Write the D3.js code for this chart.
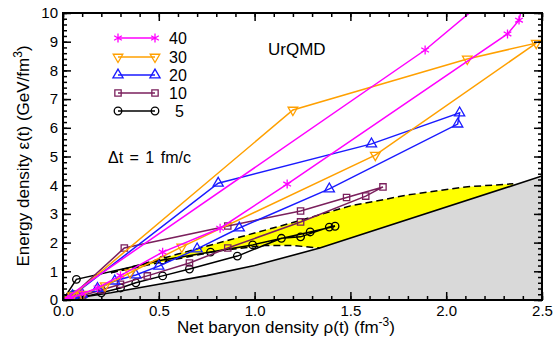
<!DOCTYPE html>
<html>
<head>
<meta charset="utf-8">
<script src="https://cdn.jsdelivr.net/npm/d3@7"></script>
<style>
  body { margin: 0; background: #fff; }
  svg { display: block; font-family: "Liberation Sans", Arial, sans-serif; }
</style>
</head>
<body>
<svg id="chart" width="554" height="346"></svg>
<script>
// trajectories [rho, eps], one point per marker
var s40 = [[0,0],[0.04,0.08],[0.1,0.22],[0.18,0.42],[0.3,0.85],[0.52,1.67],[0.82,2.5],[1.17,4.04],[2.32,9.27],[2.38,9.75],[2.44,11.5],[2.3,11.0],[1.89,8.71],[0,0]];
var s30 = [[0,0],[0.05,0.15],[1.2,6.62],[2.11,8.4],[2.47,8.95],[1.63,5.05],[0.62,1.85],[0.35,0.95],[0.22,0.5],[0.1,0.2],[0,0]];
var s20 = [[0,0],[0.05,0.15],[0.81,4.07],[1.61,5.44],[2.07,6.52],[2.06,6.13],[1.39,3.87],[0.92,2.51],[0.7,1.78],[0.5,1.18],[0.38,0.87],[0.27,0.66],[0.18,0.4],[0.1,0.2],[0,0]];
var s10 = [[0,0],[0.04,0.1],[0.32,1.81],[0.86,2.58],[1.24,3.1],[1.48,3.57],[1.67,3.94],[1.58,3.62],[1.24,2.72],[0.86,1.81],[0.66,1.29],[0.44,0.84],[0.3,0.55],[0.2,0.35],[0.1,0.15],[0,0]];
var s5 = [[0,0],[0.07,0.72],[0.52,1.39],[0.77,1.67],[0.99,1.92],[1.29,2.37],[1.42,2.57],[1.39,2.54],[1.24,2.2],[1.14,2.15],[0.91,1.53],[0.66,1.08],[0.52,0.84],[0.38,0.6],[0.3,0.42],[0.2,0.25],[0.1,0.1],[0,0]];
var sLow = [[0,0],[0.02,0.2],[0.05,0.32],[0.09,0.3],[0.11,0.2],[0.06,0.08],[0,0]];

// phase boundary (solid) and yellow band edges (dashed)
var boundary = [[0,0],[0.25,0.25],[0.5,0.55],[0.75,0.85],[1.0,1.2],[1.34,1.81],[2.5,4.32]];
var bandUpper = [[0.25,0.95],[0.6,1.6],[0.9,2.15],[1.2,2.7],[1.5,3.28],[1.8,3.66],[2.1,3.94],[2.35,4.05]];
var bandLower = [[0.25,0.95],[0.5,1.3],[0.8,1.7],[1.05,1.9],[1.2,1.9],[1.34,1.81]];

var legendLabels = ["40", "30", "20", "10", "5"];
var xTicks = [0, 0.5, 1.0, 1.5, 2.0, 2.5];
var yTicks = [0,1,2,3,4,5,6,7,8,9,10];

var svg = d3.select("#chart");
var x = d3.scaleLinear().domain([0, 2.5]).range([63, 542]);
var y = d3.scaleLinear().domain([0, 10]).range([300, 13]);

svg.append("clipPath").attr("id", "clip")
    .append("rect").attr("x", 63).attr("y", 13).attr("width", 479).attr("height", 287);

var plot = svg.append("g").attr("clip-path", "url(#clip)");
var line = d3.line().x(function (d) { return x(d[0]); }).y(function (d) { return y(d[1]); });

// gray region under the boundary
plot.append("path")
    .datum(boundary)
    .attr("d", d3.area().x(function (d) { return x(d[0]); }).y0(y(0)).y1(function (d) { return y(d[1]); }))
    .attr("fill", "#d9d9d9");

// yellow band: upper dashed, back along the boundary, lower dashed reversed
var bandPoly = bandUpper.concat([[2.35, 3.996], [1.34, 1.81]]).concat(bandLower.slice().reverse());
plot.append("path").datum(bandPoly).attr("d", line(bandPoly) + "Z").attr("fill", "#ffff00");

[bandUpper, bandLower].forEach(function (b) {
    plot.append("path").datum(b).attr("d", line)
        .attr("fill", "none").attr("stroke", "#000").attr("stroke-width", 1.5)
        .attr("stroke-dasharray", "7,4");
});
plot.append("path").datum(boundary).attr("d", line)
    .attr("fill", "none").attr("stroke", "#000").attr("stroke-width", 1.6);

// low energy blob
plot.append("path").datum(sLow).attr("d", line)
    .attr("fill", "#33cc33").attr("stroke", "#1a9a1a").attr("stroke-width", 1.5);

var asterisk = d3.symbolAsterisk || d3.symbolCross;
var series = [
    {data: s40, color: "#ff00ff", sym: asterisk, rot: 0, size: 55},
    {data: s30, color: "#ffa000", sym: d3.symbolTriangle, rot: 180, size: 40},
    {data: s20, color: "#1a1aff", sym: d3.symbolTriangle, rot: 0, size: 45},
    {data: s10, color: "#7a1f5c", sym: d3.symbolSquare, rot: 0, size: 40},
    {data: s5,  color: "#000000", sym: d3.symbolCircle, rot: 0, size: 45}
];

series.slice().reverse().forEach(function (s) {
    plot.append("path").datum(s.data).attr("d", line)
        .attr("fill", "none").attr("stroke", s.color).attr("stroke-width", 1.5);
    plot.selectAll(null).data(s.data).enter().append("path")
        .attr("d", d3.symbol().type(s.sym).size(s.size))
        .attr("transform", function (d) { return "translate(" + x(d[0]) + "," + y(d[1]) + ") rotate(" + s.rot + ")"; })
        .attr("fill", "none").attr("stroke", s.color).attr("stroke-width", 1.3);
});

// axes, ticks pointing inward on all four sides
function minorVals(lo, hi, step) {
    var v = [];
    for (var i = 0; lo + i * step <= hi + 1e-9; i++) v.push(+(lo + i * step).toFixed(3));
    return v;
}
var xMinor = minorVals(0, 2.5, 0.1), yMinor = minorVals(0, 10, 0.2);

function addAxis(axis, tr, vals, size, labels) {
    var g = svg.append("g").attr("transform", tr)
        .call(axis.tickValues(vals).tickSize(-size).tickPadding(5)
            .tickFormat(labels ? labels : ""));
    g.select(".domain").remove();
    g.selectAll("line").attr("stroke", "#000").attr("stroke-width", 1.5);
    g.selectAll("text").attr("font-size", 15).attr("fill", "#000");
    return g;
}
addAxis(d3.axisBottom(x), "translate(0,300)", xMinor, 4);
addAxis(d3.axisBottom(x), "translate(0,300)", xTicks, 8, d3.format(".1f"));
addAxis(d3.axisTop(x), "translate(0,13)", xMinor, 4);
addAxis(d3.axisTop(x), "translate(0,13)", xTicks, 8);
addAxis(d3.axisLeft(y), "translate(63,0)", yMinor, 4);
addAxis(d3.axisLeft(y), "translate(63,0)", yTicks, 8, d3.format("d"));
addAxis(d3.axisRight(y), "translate(542,0)", yMinor, 4);
addAxis(d3.axisRight(y), "translate(542,0)", yTicks, 8);

svg.append("rect").attr("x", 63).attr("y", 13).attr("width", 479).attr("height", 287)
    .attr("fill", "none").attr("stroke", "#000").attr("stroke-width", 2);

// legend
var legY = [38, 57, 75, 93, 111];
series.forEach(function (s, i) {
    svg.append("line").attr("x1", 118).attr("x2", 155).attr("y1", legY[i]).attr("y2", legY[i])
        .attr("stroke", s.color).attr("stroke-width", 1.5);
    [118, 155].forEach(function (px) {
        svg.append("path").attr("d", d3.symbol().type(s.sym).size(s.size)())
            .attr("transform", "translate(" + px + "," + legY[i] + ") rotate(" + s.rot + ")")
            .attr("fill", "none").attr("stroke", s.color).attr("stroke-width", 1.3);
    });
    svg.append("text").attr("x", i === 4 ? 175 : 169).attr("y", legY[i] + 6)
        .attr("font-size", 16).text(legendLabels[i]);
});

svg.append("text").attr("x", 268).attr("y", 55).attr("font-size", 17).text("UrQMD");
svg.append("text").attr("x", 108).attr("y", 163).attr("font-size", 16)
    .attr("word-spacing", 2).text("\u0394t = 1 fm/c");

var xt = svg.append("text").attr("x", 286).attr("y", 333).attr("text-anchor", "middle").attr("font-size", 17);
xt.append("tspan").text("Net baryon density \u03c1(t) (fm");
xt.append("tspan").attr("dy", -7).attr("font-size", 12).text("-3");
xt.append("tspan").attr("dy", 7).text(")");

var yt = svg.append("text").attr("transform", "translate(29,156) rotate(-90)")
    .attr("text-anchor", "middle").attr("font-size", 17);
yt.append("tspan").text("Energy density \u03b5(t) (GeV/fm");
yt.append("tspan").attr("dy", -7).attr("font-size", 12).text("3");
yt.append("tspan").attr("dy", 7).text(")");
</script>
</body>
</html>
